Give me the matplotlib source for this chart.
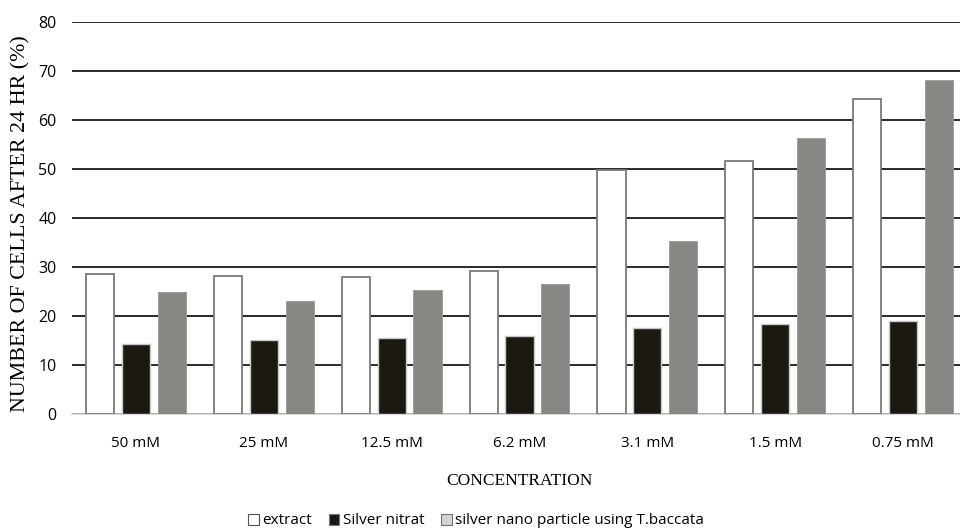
import numpy as np
import matplotlib.pyplot as plt
from matplotlib.patches import Patch

# data
concentrations = ['50 mM', '25 mM', '12.5 mM', '6.2 mM', '3.1 mM', '1.5 mM', '0.75 mM']
extract = [28.6, 28.2, 28.0, 29.2, 49.8, 51.6, 64.3]
silver_nitrat = [14.3, 15.2, 15.5, 15.9, 17.6, 18.3, 18.9]
nano_particle = [25.0, 23.0, 25.4, 26.6, 35.3, 56.3, 68.1]
series_names = ['extract', 'Silver nitrat', 'silver nano particle using T.baccata']

tick_font = 'Open Sans'
label_font = 'Liberation Serif'

fig = plt.figure(figsize=(9.6, 5.31), dpi=100)
ax = fig.add_axes([72 / 960, 1 - 414 / 531, 895 / 960, 392 / 531])

x = np.arange(len(concentrations))
w = 0.22
off = 0.28

ax.bar(x - off, extract, w, color='white', edgecolor='#7a7a7a', linewidth=1.3, zorder=3)
ax.bar(x, silver_nitrat, w, color='#1c1a10', edgecolor='#c8c8c8', linewidth=1.0, zorder=3)
ax.bar(x + off, nano_particle, w, color='#878883', edgecolor='#9a9a96', linewidth=0.6, zorder=3)

ax.set_xlim(-0.5, len(concentrations) - 0.5)
ax.set_ylim(0, 80)
ax.set_yticks(range(0, 81, 10))
ax.yaxis.grid(True, color='#2a2a2a', linewidth=1.4, zorder=0)
ax.set_axisbelow(True)
for s in ['top', 'right', 'left']:
    ax.spines[s].set_visible(False)
ax.spines['bottom'].set_color('#d0d0d0')
ax.spines['bottom'].set_linewidth(1.2)
ax.tick_params(axis='x', length=0, pad=16)
ax.tick_params(axis='y', length=0, pad=11)
ax.set_xticks(x)
ax.set_xticklabels(concentrations, fontsize=11, family=tick_font)
for lbl in ax.get_yticklabels():
    lbl.set_fontsize(11.5)
    lbl.set_family(tick_font)

ax.set_xlabel('CONCENTRATION', fontsize=12.5, family=label_font, labelpad=16)
ax.set_ylabel('NUMBER OF CELLS AFTER 24 HR (%)', fontsize=15.8, family=label_font)
ax.yaxis.set_label_coords(-42 / 895, 0.486)

handles = [
    Patch(facecolor='white', edgecolor='#555555', linewidth=0.8),
    Patch(facecolor='#1c1a10', edgecolor='#777777', linewidth=0.8),
    Patch(facecolor='#d4d4d4', edgecolor='#777777', linewidth=0.8),
]
fig.legend(handles, series_names, loc='center', bbox_to_anchor=(476 / 960, 1 - 521 / 531),
           ncol=3, frameon=False, handlelength=0.7, handleheight=0.7, handletextpad=0.2,
           columnspacing=1.1, prop={'family': tick_font, 'size': 11})

plt.savefig('out.png', dpi=100)
